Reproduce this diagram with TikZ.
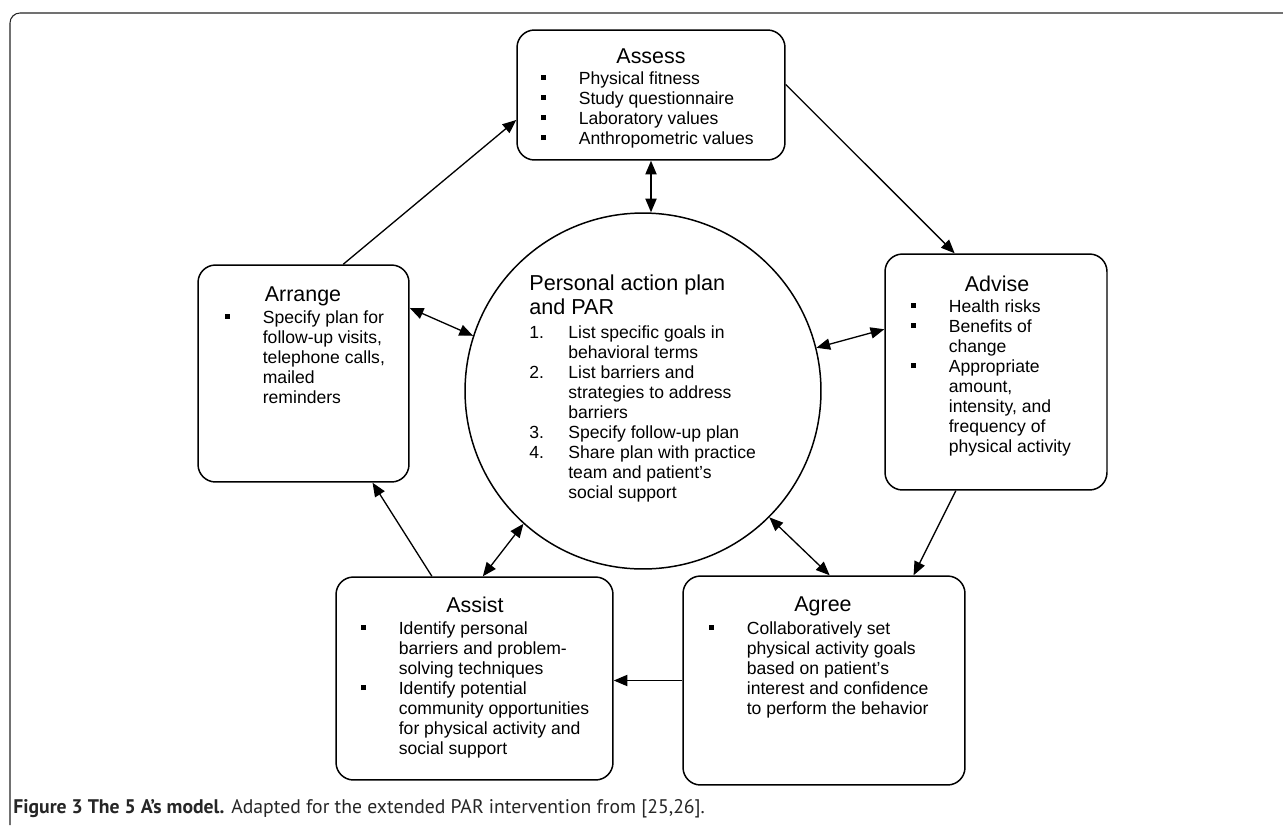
\documentclass[tikz,border=0pt]{standalone}
\usepackage{fontspec}
\setmainfont{Liberation Sans}
\newfontfamily\capfont{PT Sans}
\usetikzlibrary{calc}
\usetikzlibrary{arrows.meta}

% small square bullet and numbered entries
\newcommand{\sqbul}{\makebox[0.76cm][l]{\raisebox{2.3pt}{\rule{2.8pt}{2.8pt}}}}
\newcommand{\numit}[1]{\makebox[0.78cm][l]{#1}}

\tikzset{
  abox/.style={draw, line width=0.85pt, rounded corners=0.35cm, inner sep=0},
  atitle/.style={anchor=base, inner sep=0, font=\fontsize{12.2}{14.2}\selectfont},
  alist/.style={anchor=base west, inner sep=0, font=\fontsize{10}{11.4}\selectfont},
  link/.style={line width=0.75pt, -{Triangle[length=7.8pt,width=6.4pt]}},
  twoway/.style={line width=0.75pt, {Triangle[length=7.8pt,width=6.4pt]}-{Triangle[length=7.8pt,width=6.4pt]}}
}

\begin{document}
\begin{tikzpicture}[x=0.02cm, y=-0.02cm]
\useasboundingbox (0,0) rectangle (1283,825);
\fill[white] (0,0) rectangle (1283,825);
\draw[black!85, line width=0.6pt, rounded corners=0.2cm] (10,825) -- (10,13) -- (1283,13);

% the five A's
\node[abox, minimum width=5.36cm, minimum height=2.6cm] (assess) at (651,95) {};
\node[abox, minimum width=4.22cm, minimum height=4.34cm] (arrange) at (303.5,373.5) {};
\node[abox, minimum width=4.44cm, minimum height=4.72cm] (advise) at (996,372) {};
\node[abox, minimum width=5.54cm, minimum height=4.06cm] (assist) at (474.5,678.5) {};
\node[abox, minimum width=5.64cm, minimum height=4.18cm] (agree) at (824,680.5) {};
\node[draw, line width=0.85pt, circle, minimum size=7.12cm, inner sep=0] (circ) at (643,391) {};

% texts
\node[atitle] (assessT) at (651,63) {Assess};
\node[alist] (assessL) at (540.5,84) {\begin{tabular}[t]{@{}l@{}l@{}}
\sqbul & Physical fitness\\ \sqbul & Study questionnaire\\
\sqbul & Laboratory values\\ \sqbul & Anthropometric values
\end{tabular}};

\node[atitle] (arrangeT) at (303,301) {Arrange};
\node[alist] (arrangeL) at (224.5,323) {\begin{tabular}[t]{@{}l@{}l@{}}
\sqbul & Specify plan for\\ & follow-up visits,\\ & telephone calls,\\ & mailed\\ & reminders
\end{tabular}};

\node[atitle] (adviseT) at (997,291) {Advise};
\node[alist] (adviseL) at (910.5,312) {\begin{tabular}[t]{@{}l@{}l@{}}
\sqbul & Health risks\\ \sqbul & Benefits of\\ & change\\ \sqbul & Appropriate\\
& amount,\\ & intensity, and\\ & frequency of\\ & physical activity
\end{tabular}};

\node[atitle] (assistT) at (475,612) {Assist};
\node[alist] (assistL) at (360.5,634) {\begin{tabular}[t]{@{}l@{}l@{}}
\sqbul & Identify personal\\ & barriers and problem-\\ & solving techniques\\
\sqbul & Identify potential\\ & community opportunities\\ & for physical activity and\\ & social support
\end{tabular}};

\node[atitle] (agreeT) at (823,611) {Agree};
\node[alist] (agreeL) at (708.5,634) {\begin{tabular}[t]{@{}l@{}l@{}}
\sqbul & Collaboratively set\\ & physical activity goals\\ & based on patient’s\\
& interest and confidence\\ & to perform the behavior
\end{tabular}};

\node[anchor=base west, inner sep=0, font=\fontsize{12.3}{14.2}\selectfont] (circT) at (529,290)
  {\begin{tabular}[t]{@{}l@{}}Personal action plan\\ and PAR\end{tabular}};
\node[alist] (circL) at (529,338) {\begin{tabular}[t]{@{}l@{}l@{}}
\numit{1.} & List specific goals in\\ & behavioral terms\\
\numit{2.} & List barriers and\\ & strategies to address\\ & barriers\\
\numit{3.} & Specify follow-up plan\\
\numit{4.} & Share plan with practice\\ & team and patient’s\\ & social support
\end{tabular}};

% cycle arrows
\draw[link] ($(arrange.north west)!0.687!(arrange.north east)$) -- ($(assess.north west)!0.69!(assess.south west)$);
\draw[link] ($(assess.north east)!0.42!(assess.south east)$) -- ($(advise.north west)!0.315!(advise.north east)$);
\draw[link] ($(advise.south west)!0.32!(advise.south east)$) -- ($(agree.north west)!0.816!(agree.north east)$);
\draw[link] (agree.west) -- (agree.west -| assist.east);
\draw[link] ($(assist.north west)!0.347!(assist.north east)$) -- ($(arrange.south west)!0.825!(arrange.south east)$);

% links to the action plan
\draw[twoway] (assess.south) -- (assess.south |- circ.north);
\draw[twoway] ($(arrange.north east)!0.2!(arrange.south east)$) -- (circ.162);
\draw[twoway] ($(advise.north west)!0.32!(advise.south west)$) -- (circ.14);
\draw[twoway] (circ.228) -- ($(assist.north west)!0.53!(assist.north east)$);
\draw[twoway] (circ.315) -- ($(agree.north west)!0.52!(agree.north east)$);

\node[anchor=base west, inner sep=0, font=\capfont\fontsize{11.2}{13}\selectfont, text=black!85] (caption) at (13,813)
  {\textbf{Figure 3 The 5 A’s model.} Adapted for the extended PAR intervention from [25,26].};
\end{tikzpicture}
\end{document}
